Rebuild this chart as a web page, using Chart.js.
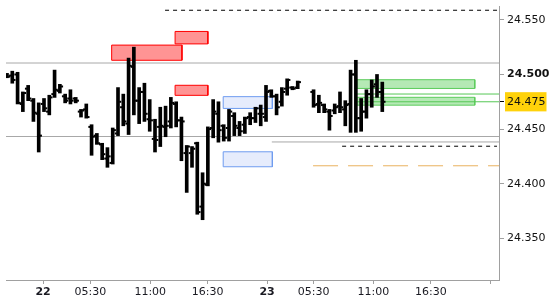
<!DOCTYPE html>
<html><head><meta charset="utf-8">
<script src="https://cdn.jsdelivr.net/npm/chart.js@4/dist/chart.umd.min.js"></script>
<style>html,body{margin:0;padding:0;background:#fff;}canvas{display:block;}</style>
</head><body>
<canvas id="c" width="550" height="300"></canvas>
<script>
// bar index (slot) of each OHLC bar
const slots = [0,1,2,3,4,5,6,7,8,9,10,11,12,13,14,15,16,17,18,19,20,21,22,23,24,25,26,27,28,29,30,31,32,33,34,35,36,37,38,39,40,41,42,43,44,45,46,47,48,49,50,51,52,53,54,55,58,59,60,61,62,63,64,65,66,67,68,69,70,71];
const opens = [24.500,24.499,24.500,24.473,24.487,24.476,24.464,24.473,24.466,24.482,24.485,24.480,24.478,24.478,24.466,24.468,24.452,24.444,24.436,24.423,24.419,24.446,24.470,24.455,24.507,24.476,24.484,24.459,24.441,24.452,24.452,24.457,24.473,24.458,24.428,24.428,24.437,24.379,24.399,24.451,24.464,24.453,24.451,24.462,24.451,24.454,24.461,24.460,24.464,24.461,24.485,24.480,24.475,24.487,24.488,24.488,24.484,24.473,24.472,24.466,24.467,24.471,24.468,24.473,24.500,24.460,24.466,24.482,24.491,24.484];
const highs = [24.501,24.503,24.502,24.484,24.490,24.478,24.474,24.478,24.481,24.504,24.491,24.482,24.486,24.479,24.468,24.473,24.454,24.446,24.437,24.433,24.451,24.488,24.482,24.515,24.525,24.488,24.492,24.477,24.459,24.470,24.471,24.479,24.475,24.461,24.435,24.434,24.438,24.410,24.452,24.477,24.475,24.454,24.468,24.465,24.457,24.461,24.465,24.470,24.472,24.490,24.486,24.482,24.488,24.496,24.489,24.494,24.486,24.481,24.473,24.468,24.473,24.484,24.476,24.504,24.513,24.478,24.486,24.495,24.500,24.493];
const lows = [24.497,24.492,24.473,24.466,24.476,24.457,24.429,24.466,24.463,24.479,24.483,24.474,24.473,24.474,24.461,24.460,24.426,24.436,24.422,24.415,24.418,24.444,24.453,24.445,24.463,24.455,24.457,24.448,24.429,24.434,24.443,24.451,24.452,24.421,24.392,24.415,24.372,24.367,24.398,24.442,24.438,24.439,24.439,24.444,24.444,24.446,24.454,24.456,24.453,24.457,24.479,24.463,24.471,24.481,24.486,24.487,24.470,24.465,24.465,24.449,24.464,24.465,24.453,24.447,24.447,24.448,24.460,24.470,24.479,24.466];
const closes = [24.498,24.495,24.474,24.483,24.478,24.465,24.444,24.469,24.479,24.486,24.489,24.476,24.476,24.476,24.467,24.461,24.443,24.437,24.427,24.425,24.449,24.475,24.457,24.508,24.476,24.484,24.464,24.458,24.440,24.453,24.453,24.474,24.458,24.457,24.434,24.432,24.374,24.400,24.450,24.466,24.449,24.442,24.466,24.453,24.448,24.460,24.460,24.469,24.464,24.484,24.480,24.470,24.484,24.495,24.487,24.493,24.472,24.474,24.468,24.462,24.470,24.470,24.472,24.500,24.460,24.466,24.482,24.489,24.484,24.475];

// axis ticks
const xTickPos = [6.82,15.76,27.1,37.94,49.2,58.0,69.3,80.2,91.5];
const xTickLabels = ['22','05:30','11:00','16:30','23','05:30','11:00','16:30',''];
const dayLabels = ['22','23'];
const yTickValues = [24.35,24.40,24.45,24.50,24.55];
const xRange = [-0.19, 93.08];
const yRange = [24.3118, 24.5627];

// horizontal levels: [price, fromSlot, toSlot]
const grayLines = [[24.5105,-0.19,93.08],[24.4432,-0.19,93.08],[24.4382,50.1,93.08]];
const blackDashed = [[24.5588,29.9,92.7],[24.4343,63.4,92.7]];
const orangeDashed = [[24.4164,57.9,93.08]];
const greenLines = [[24.4821,66.2,93.08],[24.475,66.2,93.08]];

// zones: [fromSlot, toSlot, topPrice, bottomPrice]
const redZones = [[19.8,33.1,24.5269,24.5130],[31.8,38.0,24.5394,24.5280],[31.8,38.0,24.4901,24.4809]];
const blueZones = [[40.9,50.2,24.4797,24.4689],[40.9,50.2,24.4292,24.4155]];
const greenZones = [[66.2,88.5,24.4952,24.4872],[66.2,88.5,24.4791,24.4719]];

const lastPrice = closes[closes.length - 1];
const tickOffset = 0.42;
const FONT = 'DejaVu Sans';

function levelDataset(l, color, dash) {
  return {type:'line', data:[{x:l[1],y:l[0]},{x:l[2],y:l[0]}], borderColor:color, borderWidth:1,
    borderDash:dash, pointRadius:0, fill:false, tension:0, order:5};
}
function zoneDataset(z, fillColor, lineColor) {
  return {type:'line', data:[{x:z[0],y:z[2]},{x:z[1],y:z[2]},{x:z[1],y:z[3]},{x:z[0],y:z[3]},{x:z[0],y:z[2]}],
    borderColor:lineColor, backgroundColor:fillColor, borderWidth:1, pointRadius:0, fill:'shape', tension:0, order:6};
}

const datasets = [
  {type:'bar', data: slots.map((s,i)=>({x:s, y:[lows[i], highs[i]]})), backgroundColor:'#000', barThickness:3, order:0},
  {type:'scatter', data: slots.map((s,i)=>({x:s - tickOffset, y:opens[i]})), pointStyle:'line', pointRadius:1, borderWidth:2, borderColor:'#000', order:0},
  {type:'scatter', data: slots.map((s,i)=>({x:s + tickOffset, y:closes[i]})), pointStyle:'line', pointRadius:1, borderWidth:2, borderColor:'#000', order:0},
];
grayLines.forEach(l=>datasets.push(levelDataset(l,'#a8a8a8',[])));
blackDashed.forEach(l=>datasets.push(levelDataset(l,'#000',[4,4])));
orangeDashed.forEach(l=>datasets.push(levelDataset(l,'#e9b25e',[25,10])));
greenLines.forEach(l=>datasets.push(levelDataset(l,'#55c855',[])));
redZones.forEach(z=>datasets.push(zoneDataset(z,'#ff9494','#ff0000')));
blueZones.forEach(z=>datasets.push(zoneDataset(z,'#e6ecfc','#6f9cf0')));
greenZones.forEach(z=>datasets.push(zoneDataset(z,'#b5e9b5','#5ccc5c')));

new Chart(document.getElementById('c'), {
  type:'bar',
  data:{datasets},
  options:{
    responsive:false, animation:false, devicePixelRatio:1,
    layout:{padding:0},
    plugins:{legend:{display:false}, tooltip:{enabled:false}},
    scales:{
      x:{type:'linear', position:'bottom', min:xRange[0], max:xRange[1], offset:false,
        grid:{display:true, drawOnChartArea:false, drawTicks:true, tickLength:4, tickColor:'#a0a0a0', offset:false},
        border:{display:true, color:'#a0a0a0'},
        afterBuildTicks:s=>{ s.ticks = xTickPos.map(v=>({value:v})); },
        afterFit:s=>{ s.height = 20; s.paddingLeft = 0; s.paddingRight = 0; },
        ticks:{autoSkip:false, maxRotation:0, padding:2, color:'#1a1a22',
          callback:(v,i)=>xTickLabels[i],
          font:c=>({family:FONT, size:11, weight: dayLabels.includes(xTickLabels[c.index]) ? 'bold' : 'normal'})}
      },
      y:{type:'linear', position:'right', min:yRange[0], max:yRange[1],
        grid:{display:true, drawOnChartArea:false, drawTicks:true, tickLength:5,
          tickColor:c=> (c.tick && c.tick.value === lastPrice) ? '#000' : '#a0a0a0'},
        border:{display:true, color:'#a0a0a0'},
        afterBuildTicks:s=>{ s.ticks = yTickValues.concat([lastPrice]).sort((a,b)=>a-b).map(v=>({value:v})); },
        afterFit:s=>{ s.width = 51; s.paddingTop = 0; s.paddingBottom = 0; },
        ticks:{autoSkip:false, padding:3, color:'#111',
          callback:v=>Number(v).toFixed(3),
          font:c=>({family:FONT, size:11, weight:(c.tick && c.tick.value === 24.5) ? 'bold' : 'normal'}),
          showLabelBackdrop:c=> !!(c.tick && c.tick.value === lastPrice),
          backdropColor:'#ffd20a',
          backdropPadding:{top:3, bottom:3, left:2, right:1}}
      }
    }
  }
});
</script>
</body></html>
